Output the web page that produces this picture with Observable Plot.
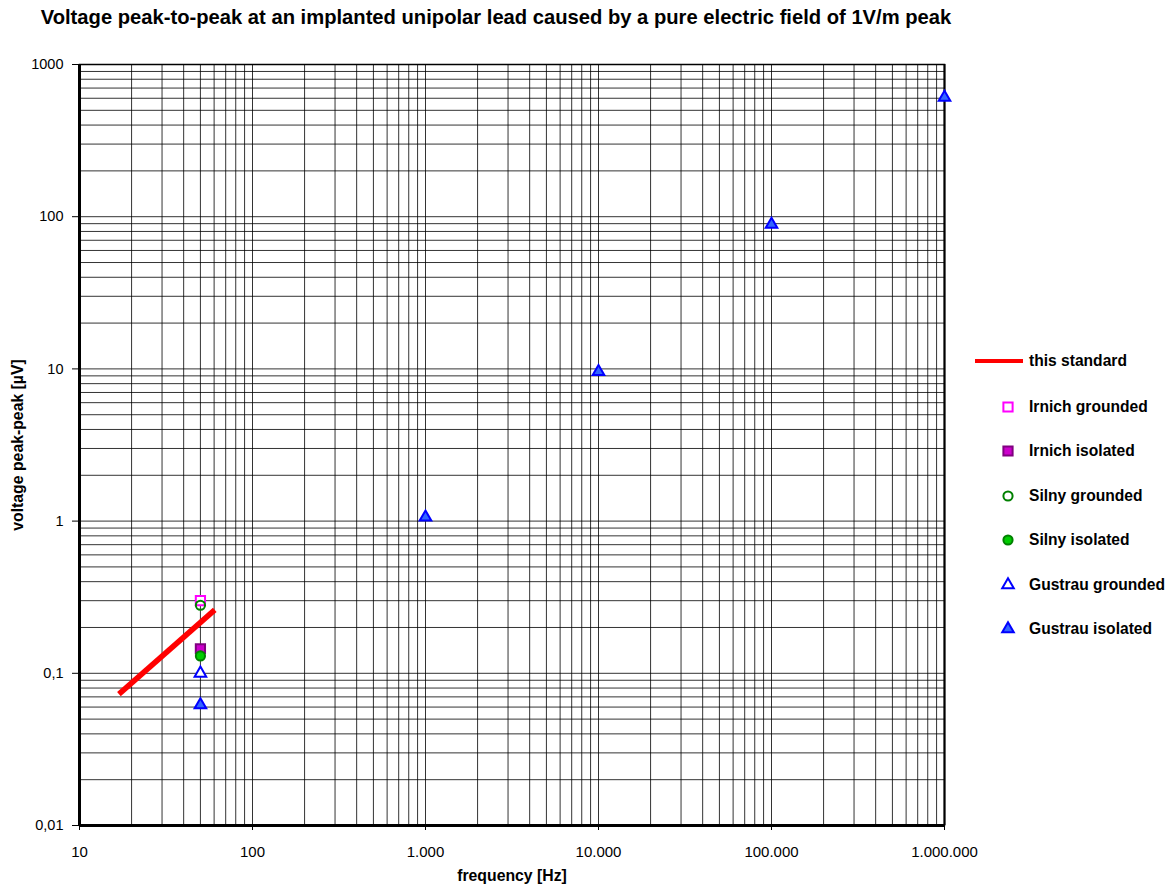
<!DOCTYPE html>
<html>
<head>
<meta charset="utf-8">
<script src="https://cdn.jsdelivr.net/npm/d3@7"></script>
<script src="https://cdn.jsdelivr.net/npm/@observablehq/plot@0.6"></script>
<style>
  html, body { margin: 0; padding: 0; background: #fff; }
  #wrap { position: relative; width: 1170px; height: 887px; font-family: "Liberation Sans", Arial, sans-serif; }
  #title { position: absolute; left: 0; width: 992px; top: 6px; text-align: center; font-weight: bold; font-size: 20.2px; color: #000; }
  #chart { position: absolute; left: 0; top: 40px; }
  #legend { position: absolute; left: 972px; top: 0; }
  .li { position: absolute; left: 0; width: 200px; height: 20px; font-weight: bold; font-size: 15.6px; color: #000; white-space: nowrap; }
  .li svg { position: absolute; left: 0; top: 0; }
  .li span { position: absolute; left: 57px; top: 1px; }
  g[aria-label="x-axis label"] text, g[aria-label="y-axis label"] text { font-weight: bold; font-size: 15.8px; }
</style>
</head>
<body>
<div id="wrap">
  <div id="title">Voltage peak-to-peak at an implanted unipolar lead caused by a pure electric field of 1V/m peak</div>
  <div id="chart"></div>
  <div id="legend"></div>
</div>
<script>
// ---- data ----
const xTicks = [10, 100, 1000, 10000, 100000, 1000000];
const xTickLabels = ["10", "100", "1.000", "10.000", "100.000", "1.000.000"];
const yTicks = [0.01, 0.1, 1, 10, 100, 1000];
const yTickLabels = ["0,01", "0,1", "1", "10", "100", "1000"];
const gridMultipliers = [1, 2, 3, 4, 5, 6, 7, 8, 9];

const seriesNames = ["this standard", "Irnich grounded", "Irnich isolated", "Silny grounded", "Silny isolated", "Gustrau grounded", "Gustrau isolated"];

const standardFreq = [16.9, 60.5];
const standardVolt = [0.073, 0.261];
const irnichGroundedFreq = [50];
const irnichGroundedVolt = [0.30];
const irnichIsolatedFreq = [50];
const irnichIsolatedVolt = [0.145];
const silnyGroundedFreq = [50];
const silnyGroundedVolt = [0.28];
const silnyIsolatedFreq = [50];
const silnyIsolatedVolt = [0.13];
const gustrauGroundedFreq = [50];
const gustrauGroundedVolt = [0.10];
const gustrauIsolatedFreq = [50, 1000, 10000, 100000, 1000000];
const gustrauIsolatedVolt = [0.062, 1.06, 9.6, 89, 607];

// ---- styles ----
const styles = {
  "this standard":    {kind: "line", stroke: "#ff0000"},
  "Irnich grounded":  {symbol: "square",   r: 5.2, fill: "#ffffff", stroke: "#ff00ff"},
  "Irnich isolated":  {symbol: "square",   r: 5.2, fill: "#cc00cc", stroke: "#800080"},
  "Silny grounded":   {symbol: "circle",   r: 4.6, fill: "none",    stroke: "#008000"},
  "Silny isolated":   {symbol: "circle",   r: 4.6, fill: "#00cc00", stroke: "#008000"},
  "Gustrau grounded": {symbol: "triangle", r: 4.3, fill: "#ffffff", stroke: "#0000ff"},
  "Gustrau isolated": {symbol: "triangle", r: 4.3, fill: "#3366ff", stroke: "#0000ff"}
};

const zip = (fs, vs) => fs.map((f, i) => ({f, v: vs[i]}));
const standard = zip(standardFreq, standardVolt);
const pointSeries = [
  ["Irnich grounded", zip(irnichGroundedFreq, irnichGroundedVolt)],
  ["Irnich isolated", zip(irnichIsolatedFreq, irnichIsolatedVolt)],
  ["Silny grounded", zip(silnyGroundedFreq, silnyGroundedVolt)],
  ["Silny isolated", zip(silnyIsolatedFreq, silnyIsolatedVolt)],
  ["Gustrau grounded", zip(gustrauGroundedFreq, gustrauGroundedVolt)],
  ["Gustrau isolated", zip(gustrauIsolatedFreq, gustrauIsolatedVolt)]
];

const xGrid = xTicks.slice(0, -1).flatMap(d => gridMultipliers.map(m => d * m)).concat([1000000]);
const yGrid = yTicks.slice(0, -1).flatMap(d => gridMultipliers.map(m => +(d * m).toPrecision(3))).concat([1000]);

const chart = Plot.plot({
  width: 1170,
  height: 847,
  marginLeft: 79,
  marginRight: 226,
  marginTop: 24,
  marginBottom: 62,
  style: {fontFamily: "'Liberation Sans', Arial, sans-serif", fontSize: "14.5px", color: "#000", background: "#fff"},
  x: {type: "log", domain: [10, 1000000]},
  y: {type: "log", domain: [0.01, 1000]},
  marks: [
    Plot.ruleX(xGrid, {stroke: "#000", strokeWidth: 1, strokeOpacity: 0.8}),
    Plot.ruleY(yGrid, {stroke: "#000", strokeWidth: 1, strokeOpacity: 0.8}),
    Plot.frame({stroke: "#000", strokeWidth: 1.5}),
    Plot.ruleX([10], {stroke: "#000", strokeWidth: 3}),
    Plot.ruleX([1000000], {stroke: "#000", strokeWidth: 2}),
    Plot.ruleY([0.01], {stroke: "#000", strokeWidth: 3}),
    Plot.axisX({ticks: xTicks, tickFormat: d => xTickLabels[xTicks.indexOf(d)], tickSize: 5, tickPadding: 16,
      label: "frequency [Hz]", labelAnchor: "center", labelArrow: "none", labelOffset: 55, fontSize: 15}),
    Plot.axisY({ticks: yTicks, tickFormat: d => yTickLabels[yTicks.indexOf(d)], tickSize: 7, tickPadding: 9,
      label: "voltage peak-peak [µV]", labelAnchor: "center", labelArrow: "none", labelOffset: 68}),
    Plot.line(standard, {x: "f", y: "v", stroke: styles["this standard"].stroke, strokeWidth: 5.5, strokeLinecap: "butt"}),
    ...pointSeries.map(([name, data]) => {
      const s = styles[name];
      return Plot.dot(data, {x: "f", y: "v", symbol: () => s.symbol, r: s.r, fill: s.fill, stroke: s.stroke, strokeWidth: 2, clip: false});
    })
  ]
});
document.getElementById("chart").appendChild(chart);

// ---- legend ----
const legendY = [351, 397, 441, 486, 530, 575, 619];
const legend = document.getElementById("legend");
const symPath = (name) => {
  const s = styles[name];
  const sym = {square: d3.symbolSquare, circle: d3.symbolCircle, triangle: d3.symbolTriangle}[s.symbol];
  return d3.symbol(sym, s.r * s.r * Math.PI)();
};
seriesNames.forEach((name, i) => {
  const s = styles[name];
  const div = document.createElement("div");
  div.className = "li";
  div.style.top = legendY[i] + "px";
  let svg;
  if (s.kind === "line") {
    svg = `<svg width="56" height="20"><line x1="3" x2="51" y1="10" y2="10" stroke="${s.stroke}" stroke-width="4"/></svg>`;
  } else {
    svg = `<svg width="56" height="20"><path transform="translate(36,10)" d="${symPath(name)}" fill="${s.fill}" stroke="${s.stroke}" stroke-width="2"/></svg>`;
  }
  div.innerHTML = svg + `<span>${name}</span>`;
  legend.appendChild(div);
});
</script>
</body>
</html>
